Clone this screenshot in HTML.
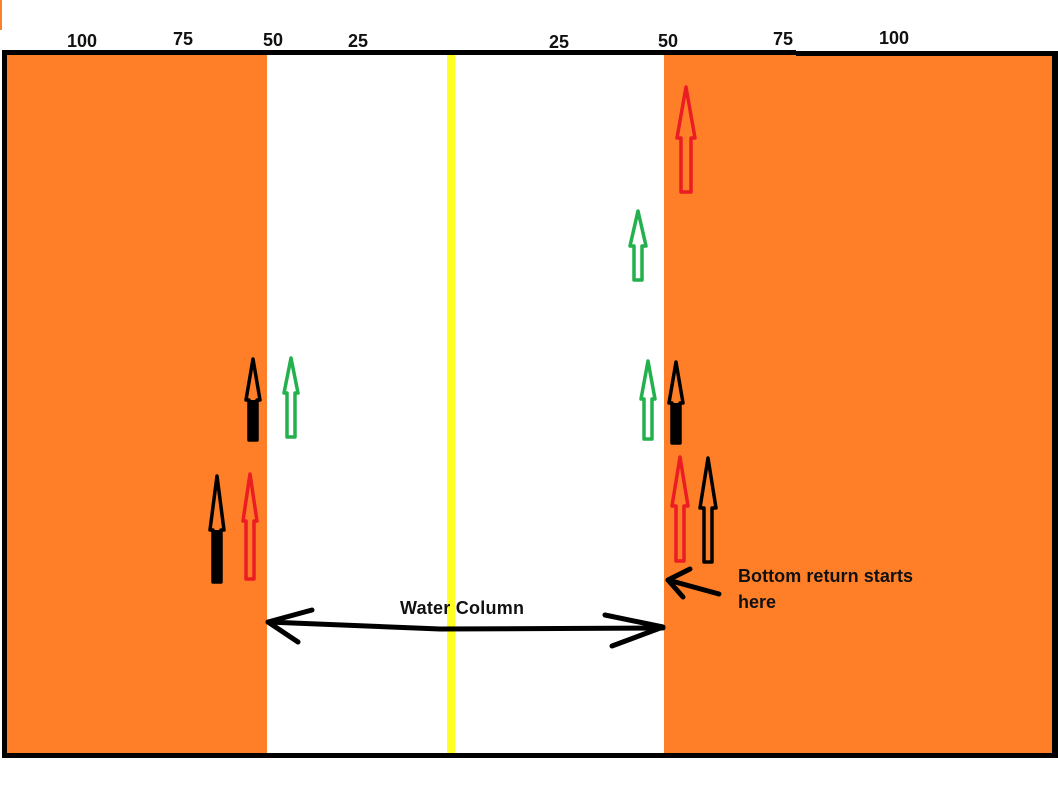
<!DOCTYPE html>
<html><head><meta charset="utf-8"><style>
html,body{margin:0;padding:0;background:#fff;}
svg{display:block}
text{font-family:"Liberation Sans",sans-serif;font-weight:bold;fill:#111;}
</style></head><body>
<svg width="1058" height="790" viewBox="0 0 1058 790" xmlns="http://www.w3.org/2000/svg">
<rect x="0" y="0" width="1058" height="790" fill="#fff"/>
<rect x="0" y="0" width="2" height="30" fill="#fe7f27"/>
<rect x="4" y="52" width="263" height="704" fill="#fe7f27"/>
<rect x="664" y="52" width="390" height="704" fill="#fe7f27"/>
<rect x="447" y="52" width="8" height="704" fill="#ffff22"/>
<rect x="2" y="50" width="794" height="5" fill="#000"/>
<rect x="796" y="51" width="262" height="5" fill="#000"/>
<rect x="1052" y="51" width="6" height="707" fill="#000"/>
<rect x="2" y="50" width="5" height="708" fill="#000"/>
<rect x="2" y="753" width="1056" height="5" fill="#000"/>
<g font-size="18" text-anchor="middle">
<text x="82" y="47">100</text><text x="183" y="45">75</text><text x="273" y="46">50</text><text x="358" y="47">25</text>
<text x="559" y="48">25</text><text x="668" y="47">50</text><text x="783" y="45">75</text><text x="894" y="44">100</text>
</g>
<g stroke-width="3.5" stroke-linejoin="round" fill="none">
<path d="M686,87 L695,138 L691,138 L691,192 L681,192 L681,138 L677,138 Z" stroke="#ec1c24"/>
<path d="M638,211 L646,246 L642,246 L642,280 L634,280 L634,246 L630,246 Z" stroke="#22b14c"/>
<path d="M291,358 L298,393 L295,393 L295,437 L287,437 L287,393 L284,393 Z" stroke="#22b14c"/>
<path d="M648,361 L655,399 L652,399 L652,439 L644,439 L644,399 L641,399 Z" stroke="#22b14c"/>
<path d="M250,474 L257,521 L254,521 L254,579 L246,579 L246,521 L243,521 Z" stroke="#ec1c24"/>
<path d="M680,457 L688,506 L684,506 L684,561 L676,561 L676,506 L672,506 Z" stroke="#ec1c24"/>
<path d="M708,458 L716,508 L712,508 L712,562 L704,562 L704,508 L700,508 Z" stroke="#000"/>
<path d="M253,359 L260,400 L257,400 L257,440 L249,440 L249,400 L246,400 Z" stroke="#000" />
<path d="M217,476 L224,530 L221,530 L221,582 L213,582 L213,530 L210,530 Z" stroke="#000"/>
<path d="M676,362 L683,403 L680,403 L680,443 L672,443 L672,403 L669,403 Z" stroke="#000"/>
</g>
<rect x="249" y="400" width="8" height="40" fill="#000"/>
<rect x="213" y="530" width="8" height="52" fill="#000"/>
<rect x="672" y="403" width="8" height="40" fill="#000"/>
<g stroke="#000" stroke-width="5" stroke-linecap="round" stroke-linejoin="round" fill="none">
<path d="M268,622 L440,629 L663,628"/>
<path d="M312,610 L268,622 L298,642"/>
<path d="M605,615 L663,627 L612,646"/>
<path d="M719,594 L668,580"/>
<path d="M690,569 L668,580 L683,597"/>
</g>
<text x="400" y="614" font-size="18" textLength="124">Water Column</text>
<text x="738" y="582" font-size="18" textLength="175">Bottom return starts</text>
<text x="738" y="608" font-size="18">here</text>
</svg>
</body></html>
